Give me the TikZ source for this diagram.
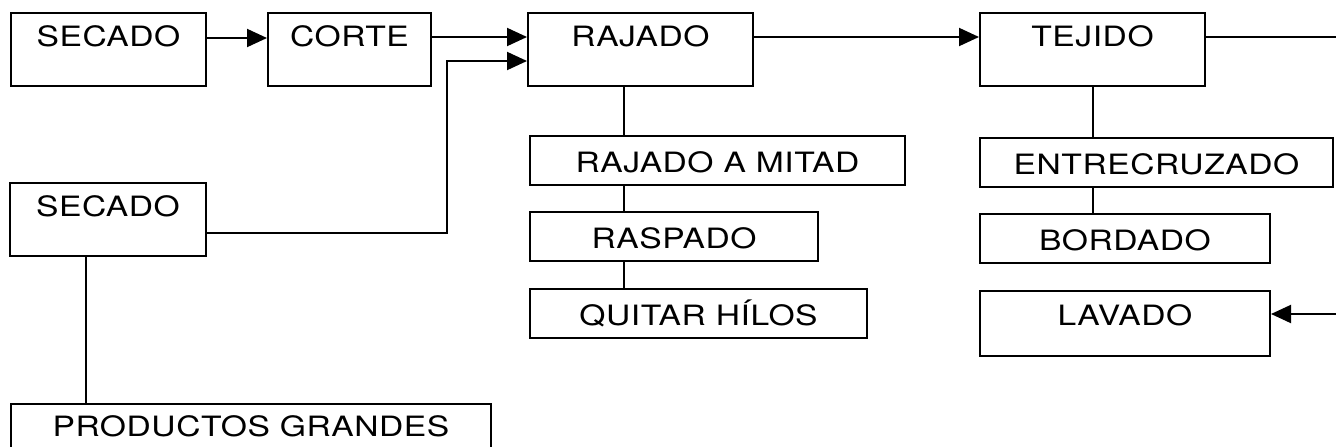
\documentclass[tikz,border=0pt]{standalone}
\usepackage{fontspec}
\newfontfamily\boxfont[FakeStretch=1.2,LetterSpace=2]{TeX Gyre Heros}
\usetikzlibrary{positioning,arrows.meta}

\tikzset{
  box/.style={draw, line width=2pt, inner sep=0pt, align=center,
    font=\boxfont\fontsize{28pt}{34pt}\selectfont},
  tallbox/.style={box, text height=33pt, text depth=40pt},
  smallbox/.style={box, text height=36pt, text depth=13pt},
  link/.style={line width=2pt},
  flow/.style={line width=2pt, -{Triangle[length=20pt,width=18pt]}}
}

\begin{document}
\begin{tikzpicture}[x=1pt,y=1pt]
  \useasboundingbox (0,0) rectangle (1336,-447);

  \node (secA)    [tallbox, minimum width=195pt, anchor=north west] at (10,-12) {SECADO};
  \node (corte)   [tallbox, minimum width=163pt, right=60pt of secA]   {CORTE};
  \node (rajado)  [tallbox, minimum width=225pt, right=95pt of corte]  {RAJADO};
  \node (tejido)  [tallbox, minimum width=225pt, right=225pt of rajado] {TEJIDO};

  \node (secB)    [tallbox, minimum width=196pt, below right=95pt and -1pt of secA.south west] {SECADO};
  \node (prod)    [box, text height=32pt, text depth=40pt, minimum width=480pt,
                   below right=146pt and 1pt of secB.south west] {PRODUCTOS GRANDES};

  \node (mitad)   [smallbox, minimum width=375pt, below right=48pt and 2pt of rajado.south west] {RAJADO A MITAD};
  \node (raspado) [smallbox, minimum width=288pt, below right=25pt and 0pt of mitad.south west]  {RASPADO};
  \node (quitar)  [smallbox, minimum width=337pt, below right=26pt and 0pt of raspado.south west] {QUITAR HÍLOS};

  \node (entre)   [smallbox, minimum width=353pt, below right=50pt and 0pt of tejido.south west] {ENTRECRUZADO};
  \node (bordado) [smallbox, minimum width=290pt, below right=25pt and 0pt of entre.south west]  {BORDADO};
  \node (lavado)  [box, text height=34pt, text depth=31pt, minimum width=290pt,
                   below right=26pt and 0pt of bordado.south west] {LAVADO};

  \coordinate (rj) at ([xshift=97pt]rajado.south west);
  \coordinate (sb) at ([xshift=77pt]secB.south west);

  \draw [flow] ([yshift=-26pt]secA.north east)   -- ([yshift=-26pt]corte.north west);
  \draw [flow] ([yshift=-25pt]corte.north east)  -- ([yshift=-25pt]rajado.north west);
  \draw [flow] ([yshift=-51pt]secB.north east) -- ++(240,0) |- ([yshift=-49pt]rajado.north west);
  \draw [flow] ([yshift=-25pt]rajado.north east) -- ([yshift=-25pt]tejido.north west);
  \draw [flow] ([yshift=-25pt]tejido.north east) -- ++(170,0) |- ([yshift=-24pt]lavado.north east);

  \draw [link] (rj) -- (rj |- mitad.north);
  \draw [link] (rj |- mitad.south) -- (rj |- raspado.north);
  \draw [link] (rj |- raspado.south) -- (rj |- quitar.north);
  \draw [link] (tejido.south) -- (tejido.south |- entre.north);
  \draw [link] (tejido.south |- entre.south) -- (tejido.south |- bordado.north);
  \draw [link] (sb) -- (sb |- prod.north);
\end{tikzpicture}
\end{document}
